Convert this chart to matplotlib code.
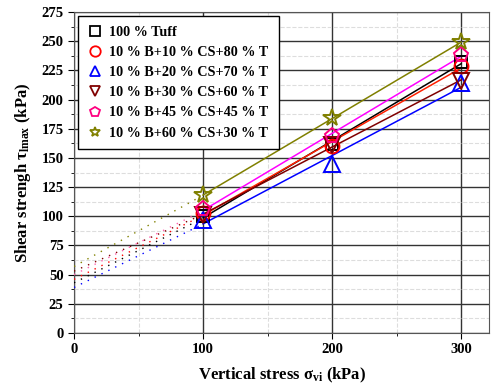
import numpy as np
import matplotlib
matplotlib.use('Agg')
import matplotlib.pyplot as plt
from matplotlib.lines import Line2D
from matplotlib.ticker import MultipleLocator

plt.rcParams['font.family'] = ['Liberation Serif', 'DejaVu Serif']
plt.rcParams['font.weight'] = 'bold'
plt.rcParams['mathtext.fontset'] = 'custom'
plt.rcParams['mathtext.rm'] = 'Liberation Serif:bold'
plt.rcParams['mathtext.bf'] = 'Liberation Serif:bold'
plt.rcParams['mathtext.it'] = 'Liberation Serif:bold'

# data
stress = [100, 200, 300]
labels = ['100 % Tuff', '10 % B+10 % CS+80 % T', '10 % B+20 % CS+70 % T',
          '10 % B+30 % CS+60 % T', '10 % B+45 % CS+45 % T', '10 % B+60 % CS+30 % T']
tuff = [100, 162, 232]
mix_10_80 = [103, 160, 229]
mix_20_70 = [97, 145, 214]
mix_30_60 = [101, 161, 216]
mix_45_45 = [106, 169, 238]
mix_60_30 = [118, 184, 249]
series = [tuff, mix_10_80, mix_20_70, mix_30_60, mix_45_45, mix_60_30]
# dotted extension values at 0 kPa
intercepts = [43, 46, 39, 53, 50, 57]

markers = ['s', 'o', '^', 'v', 'p', '*']
mcolors = ['black', '#ff0000', '#0000ff', '#800000', '#ff0080', '#808000']
lcolors = ['black', '#ff2000', '#0000ff', '#800000', '#ff00ff', '#808000']
dcolors = ['black', '#ff0000', '#0000ff', '#800000', '#ff60b0', '#808000']
msizes = [9, 10, 12, 11, 11, 13]

fig = plt.figure(figsize=(4.91, 3.91), dpi=100)
ax = fig.add_axes([74/491, 58/391, 415.5/491, 321/391])

x = np.array(stress)
for ys, c0, m, mc, lc, dc, ms in zip(series, intercepts, markers, mcolors, lcolors, dcolors, msizes):
    k, b = np.polyfit(x, ys, 1)
    ax.plot([100, 300], [k*100 + b, k*300 + b], color=lc, lw=1.1, zorder=3)
    ax.plot([0, 97], [c0, k*97 + b], color=dc, lw=1.0, linestyle=(0, (1, 4.5)), zorder=3)
    ax.plot(x, ys, linestyle='none', marker=m, markersize=ms, markerfacecolor='none',
            markeredgecolor=mc, markeredgewidth=1.4, zorder=4)

ax.set_xlim(0, 322)
ax.set_ylim(0, 275)
ax.xaxis.set_major_locator(MultipleLocator(100))
ax.xaxis.set_minor_locator(MultipleLocator(50))
ax.yaxis.set_major_locator(MultipleLocator(25))
ax.yaxis.set_minor_locator(MultipleLocator(12.5))
ax.grid(True, which='major', color='#333333', lw=1.0)
ax.grid(True, which='minor', color='#dddddd', lw=0.8, linestyle='--')
ax.set_axisbelow(True)
ax.tick_params(which='both', direction='out', labelsize=10.5)
ax.tick_params(which='major', length=4)
ax.tick_params(which='minor', length=2.5)
for s in ax.spines.values():
    s.set_color('#555555')

ax.set_xlabel(r'Vertical stress $\mathbf{\sigma}_{\mathrm{vi}}$ (kPa)', fontsize=12, fontweight='bold', labelpad=7)
ax.set_ylabel(r'Shear strengh $\mathbf{\tau}_{\mathrm{lmax}}$ (kPa)', fontsize=12, fontweight='bold', labelpad=6)

handles = [Line2D([], [], linestyle='none', marker=m, markersize=7.5, markerfacecolor='none',
                  markeredgecolor=mc, markeredgewidth=1.3) for m, mc in zip(markers, mcolors)]
leg = ax.legend(handles, labels, loc='upper left', fancybox=False, framealpha=1,
                edgecolor='black', handlelength=1.0, handletextpad=0.5, labelspacing=0.5,
                borderpad=0.7, borderaxespad=0.3, prop={'weight': 'bold', 'size': 10.2})
leg.get_frame().set_linewidth(1.0)

fig.savefig('out.png', dpi=100)
